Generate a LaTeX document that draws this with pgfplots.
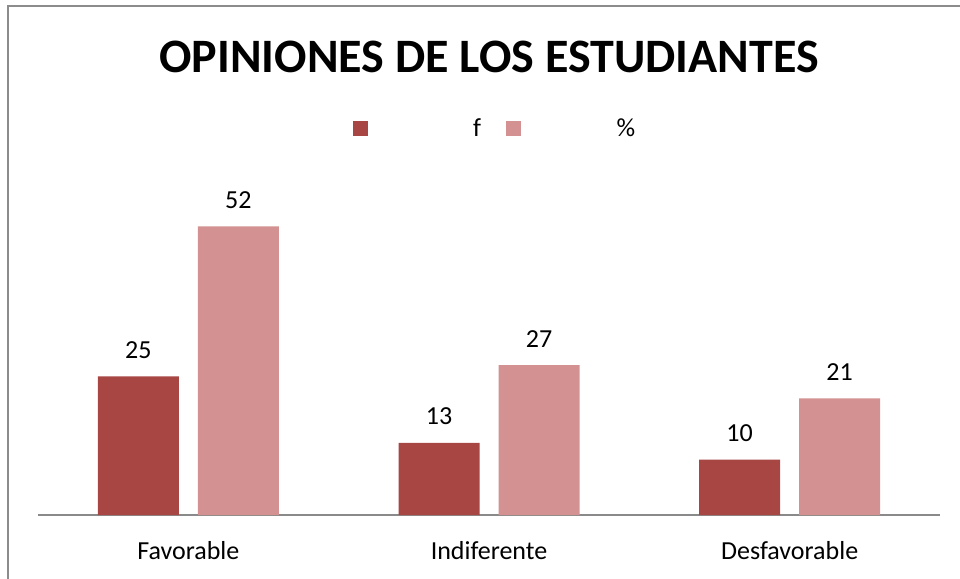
\documentclass[border=0pt]{standalone}
\usepackage{fontspec}
\setmainfont{Carlito}
\usepackage{pgfplots}
\pgfplotsset{compat=1.18}
\definecolor{darkbar}{HTML}{A84644}
\definecolor{lightbar}{HTML}{D39291}
\definecolor{framegray}{HTML}{8C8C8C}
\definecolor{axisgray}{HTML}{8A8A8A}
\begin{document}
\begin{tikzpicture}[x=1pt,y=1pt]
\useasboundingbox[fill=white] (0,0) rectangle (960,578);
% outer chart frame (only left and top edges fall inside the picture)
\draw[framegray, line width=1.5pt] (8,-20) -- (8,572) -- (980,572);
% title
\node[anchor=base, font=\fontsize{48}{58}\selectfont\bfseries] at (489,505) {OPINIONES DE LOS ESTUDIANTES};
\begin{axis}[
  at={(38pt,63pt)}, anchor=south west,
  scale only axis, width=902pt, height=333pt,
  ybar=19pt, bar width=81pt,
  xmin=-0.5, xmax=2.5, ymin=0, ymax=60,
  axis x line=bottom, axis y line=none,
  x axis line style={-, draw=axisgray, line width=1.5pt},
  xtick=data, xticklabels={Favorable, Indiferente, Desfavorable},
  major tick length=0pt, x tick style={draw=none},
  ytick=\empty,
  /pgf/number format/assume math mode=true,
  xticklabel style={font=\fontsize{26}{31}\selectfont, anchor=base, yshift=-44pt},
  nodes near coords,
  every node near coord/.append style={font=\fontsize{26}{31}\selectfont, anchor=base, yshift=18pt, black},
  legend style={at={(axis description cs:0.3492,1.1607)}, anchor=west, draw=none, fill=none,
    inner sep=0pt, legend columns=-1, font=\fontsize{26}{31}\selectfont,
    nodes={inner sep=0pt},
    /tikz/every even column/.append style={column sep=25pt}},
  clip=false,
]
\addplot[fill=darkbar, draw=none,
  legend image code/.code={\fill[darkbar] (0pt,-7.5pt) rectangle (15pt,7.5pt);}]
  coordinates {(0,25) (1,13) (2,10)};
\addlegendentry{\makebox[113pt][r]{f}}
\addplot[fill=lightbar, draw=none,
  legend image code/.code={\fill[lightbar] (0pt,-7.5pt) rectangle (15pt,7.5pt);}]
  coordinates {(0,52) (1,27) (2,21)};
\addlegendentry{\makebox[114pt][r]{\%}}
\end{axis}
\end{tikzpicture}
\end{document}
